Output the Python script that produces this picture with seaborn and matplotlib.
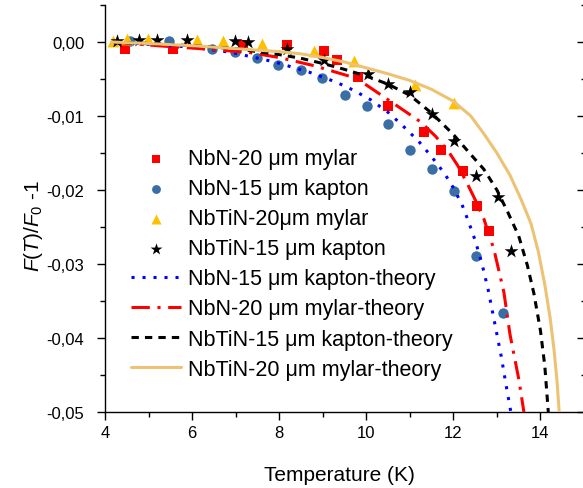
import matplotlib
matplotlib.use("Agg")
import matplotlib.pyplot as plt
from matplotlib.ticker import FixedLocator, MultipleLocator
import seaborn as sns

nbn20_T = [4.46, 5.57, 7.18, 8.19, 9.02, 9.32, 9.80, 10.51, 11.32, 11.71, 12.22, 12.54, 12.81]
nbn20_f = [-0.0009, -0.0009, -0.0004, -0.0004, -0.0012, -0.0024, -0.0047, -0.0086,
           -0.0122, -0.0146, -0.0174, -0.0222, -0.0255]

nbn15_T = [4.58, 5.47, 6.46, 6.99, 7.50, 7.98, 8.49, 8.99, 9.50, 10.01, 10.51, 11.00,
           11.50, 12.01, 12.52, 13.14]
nbn15_f = [0.0001, 0.0001, -0.0010, -0.0014, -0.0022, -0.0031, -0.0038, -0.0049,
           -0.0072, -0.0086, -0.0111, -0.0146, -0.0172, -0.0201, -0.0289, -0.0366]

nbtin20_T = [4.18, 4.51, 4.99, 6.12, 6.72, 7.61, 8.81, 9.71, 11.13, 12.01]
nbtin20_f = [0.0001, 0.0004, 0.0004, 0.0003, 0.0001, -0.0003, -0.0012, -0.0026, -0.0058, -0.0082]

nbtin15_T = [4.28, 4.78, 5.20, 5.89, 6.99, 7.29, 8.19, 9.02, 10.03, 10.51, 11.00, 11.50,
             12.01, 12.52, 13.02, 13.32]
nbtin15_f = [0.0001, 0.0003, 0.0003, 0.0003, 0.0001, 0.0000, -0.0009, -0.0024, -0.0043,
             -0.0057, -0.0068, -0.0097, -0.0134, -0.0181, -0.0209, -0.0282]

# theory curves (sampled off the figure)
th_nbn15_T = [4.2, 5.0, 6.0, 6.9, 7.9, 8.7, 9.3, 9.7, 10.1, 10.5, 10.8, 11.2, 11.5, 11.8,
              12.0, 12.2, 12.35, 12.5, 12.65, 12.8, 12.95, 13.1, 13.2, 13.32]
th_nbn15_f = [0.0, -0.0003, -0.0007, -0.0014, -0.0027, -0.0041, -0.0054, -0.0065, -0.0078,
              -0.0095, -0.0111, -0.0134, -0.0155, -0.0178, -0.0197, -0.0220, -0.0243,
              -0.0268, -0.0298, -0.0335, -0.0380, -0.0425, -0.0460, -0.0500]

th_nbn20_T = [4.2, 5.2, 6.2, 7.3, 8.0, 8.8, 9.6, 10.0, 10.4, 10.8, 11.25, 11.6, 11.9, 12.1,
              12.3, 12.5, 12.7, 12.93, 13.16, 13.3, 13.5, 13.62]
th_nbn20_f = [0.0, -0.0005, -0.0009, -0.0014, -0.0021, -0.0032, -0.0046, -0.0058, -0.0074,
              -0.0090, -0.0108, -0.0128, -0.0149, -0.0167, -0.0189, -0.0213, -0.0239,
              -0.0280, -0.0338, -0.0395, -0.0455, -0.0500]

th_nbtin15_T = [4.2, 5.0, 6.0, 7.0, 7.5, 8.0, 8.5, 9.0, 9.5, 10.0, 10.5, 11.0, 11.5, 12.0,
                12.4, 12.7, 13.0, 13.25, 13.5, 13.7, 13.85, 14.0, 14.1, 14.18]
th_nbtin15_f = [0.0, -0.0002, -0.0005, -0.0009, -0.0013, -0.0017, -0.0022, -0.0029, -0.0037,
                -0.0046, -0.0057, -0.0072, -0.0096, -0.0125, -0.0152, -0.0172, -0.0200,
                -0.0230, -0.0262, -0.0302, -0.0340, -0.0390, -0.0438, -0.0500]

th_nbtin20_T = [4.15, 5.0, 6.0, 7.0, 8.0, 8.5, 9.0, 9.5, 10.0, 10.5, 11.0, 11.5, 12.0,
                12.4, 12.7, 13.0, 13.3, 13.55, 13.78, 13.95, 14.1, 14.22, 14.31, 14.38, 14.43]
th_nbtin20_f = [0.0, -0.0002, -0.0005, -0.0009, -0.0013, -0.0016, -0.0021, -0.0027, -0.0035,
                -0.0043, -0.0052, -0.0064, -0.0080, -0.0100, -0.0124, -0.0150, -0.0180,
                -0.0212, -0.0245, -0.0283, -0.0328, -0.0372, -0.0415, -0.0458, -0.0500]

x_ticks = [4, 6, 8, 10, 12, 14]
y_ticks = [0.0, -0.01, -0.02, -0.03, -0.04, -0.05]
y_tick_labels = ["0,00", "-0,01", "-0,02", "-0,03", "-0,04", "-0,05"]

sns.set_theme(style="ticks")
plt.rcParams["font.family"] = ["Liberation Sans", "DejaVu Sans"]
plt.rcParams["mathtext.fontset"] = "custom"
plt.rcParams["mathtext.rm"] = "Liberation Sans"
plt.rcParams["mathtext.it"] = "Liberation Sans:italic"
plt.rcParams["text.color"] = "black"
plt.rcParams["axes.labelcolor"] = "black"

fig = plt.figure(figsize=(5.83, 4.89), dpi=100)
ax = fig.add_axes([105 / 583, 76 / 489, 479 / 583, 407 / 489])

# measured data
sns.scatterplot(x=nbn20_T, y=nbn20_f, marker="s", s=44, color="#ff0000", linewidth=0,
                label="NbN-20 \u03bcm mylar", ax=ax, zorder=3)
sns.scatterplot(x=nbn15_T, y=nbn15_f, marker="o", s=56, color="#3a6ea5", linewidth=0,
                label="NbN-15 \u03bcm kapton", ax=ax, zorder=3)
sns.scatterplot(x=nbtin20_T, y=nbtin20_f, marker="^", s=72, color="#ffc000", linewidth=0,
                label="NbTiN-20\u03bcm mylar", ax=ax, zorder=3)
sns.scatterplot(x=nbtin15_T, y=nbtin15_f, marker="*", s=110, color="black", linewidth=0,
                label="NbTiN-15 \u03bcm kapton", ax=ax, zorder=3)

# theory
sns.lineplot(x=th_nbn15_T, y=th_nbn15_f, color="#0000ff", linewidth=2.2,
             linestyle=(0, (1, 2.6)), label="NbN-15 \u03bcm kapton-theory",
             ax=ax, sort=False, errorbar=None, zorder=4)
sns.lineplot(x=th_nbn20_T, y=th_nbn20_f, color="#ff0000", linewidth=2.2,
             linestyle=(0, (6, 2.5, 1, 2.5)), label="NbN-20 \u03bcm mylar-theory",
             ax=ax, sort=False, errorbar=None, zorder=4)
sns.lineplot(x=th_nbtin15_T, y=th_nbtin15_f, color="black", linewidth=2.2,
             linestyle=(0, (2.4, 2.0)), label="NbTiN-15 \u03bcm kapton-theory",
             ax=ax, sort=False, errorbar=None, zorder=4)
sns.lineplot(x=th_nbtin20_T, y=th_nbtin20_f, color="#edc373", linewidth=2.2,
             linestyle="-", label="NbTiN-20 \u03bcm mylar-theory",
             ax=ax, sort=False, errorbar=None, zorder=4)

ax.set_xlim(4, 15)
ax.set_ylim(-0.05, 0.005)
ax.xaxis.set_major_locator(FixedLocator(x_ticks))
ax.xaxis.set_minor_locator(MultipleLocator(1))
ax.yaxis.set_major_locator(FixedLocator(y_ticks))
ax.yaxis.set_minor_locator(MultipleLocator(0.005))
ax.set_yticklabels(y_tick_labels)

for side in ["top", "right"]:
    ax.spines[side].set_visible(False)
for side in ["left", "bottom"]:
    ax.spines[side].set_linewidth(1.0)
    ax.spines[side].set_color("black")

ax.tick_params(which="major", direction="out", length=6, width=1.0, color="black",
               labelsize=12, labelcolor="black")
ax.tick_params(axis="y", which="major", pad=9)
ax.tick_params(which="minor", direction="out", length=3.5, width=1.0, color="black")

right = ax.secondary_yaxis("right")
right.spines["right"].set_visible(False)
right.yaxis.set_major_locator(FixedLocator(y_ticks))
right.yaxis.set_minor_locator(MultipleLocator(0.005))
right.tick_params(which="major", direction="in", length=5, width=1.0, color="black",
                  labelright=False)
right.tick_params(which="minor", direction="in", length=2.5, width=1.0, color="black")

ax.set_xlabel("Temperature (K)", fontsize=15)
ax.set_ylabel(r"$\mathit{F(T)/F}_{\mathit{0}}$ -1", fontsize=15)
ax.xaxis.set_label_coords(0.49, -0.13)
ax.yaxis.set_label_coords(-0.125, 0.46)

ax.legend(loc="upper left", bbox_to_anchor=(0.055, 0.648), frameon=False,
          fontsize=15.5, borderpad=0, borderaxespad=0, labelspacing=0.42,
          handlelength=2.3, handletextpad=0.35, markerscale=0.85)

fig.savefig("out.png", dpi=100)
